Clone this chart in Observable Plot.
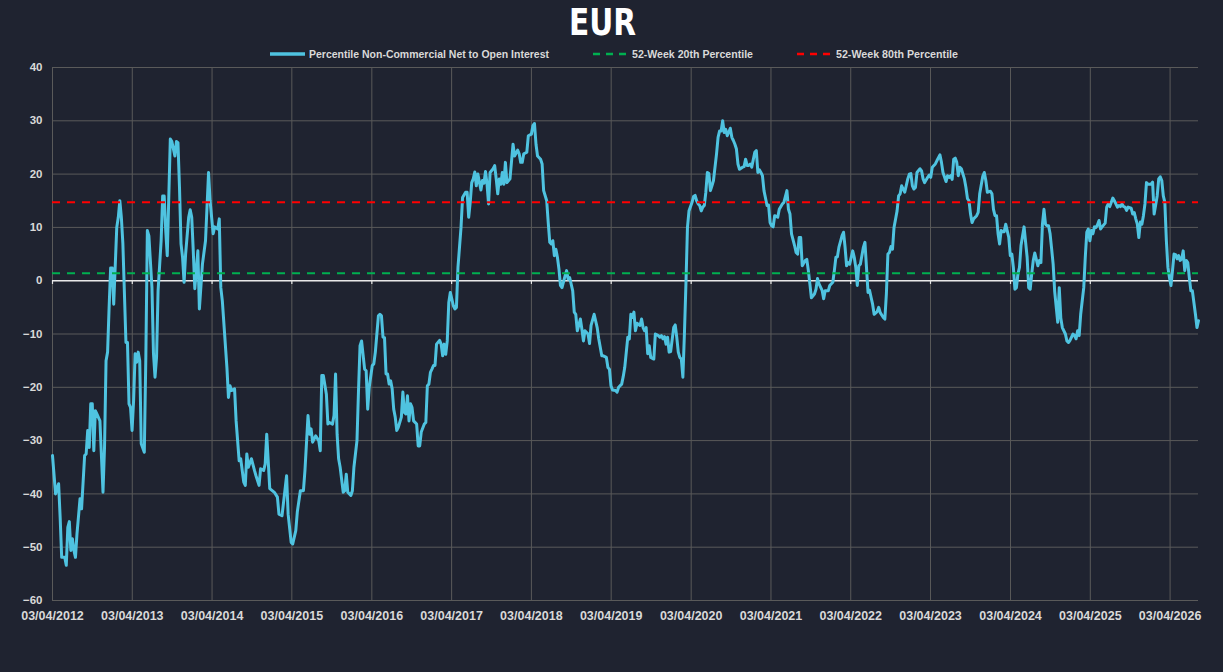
<!DOCTYPE html>
<html>
<head>
<meta charset="utf-8">
<script src="https://cdn.jsdelivr.net/npm/d3@7"></script>
<script src="https://cdn.jsdelivr.net/npm/@observablehq/plot@0.6"></script>
<style>
  html, body { margin: 0; padding: 0; background: #1f2330; }
  #wrap { position: relative; width: 1223px; height: 672px; overflow: hidden; background: #1f2330; }
  #head { position: relative; height: 62px; }
  #title { position: absolute; top: 1px; color: #ffffff; white-space: nowrap;
           font-family: "Liberation Sans Narrow", "DejaVu Sans Condensed", "Liberation Sans", sans-serif;
           font-weight: bold; font-size: 37px; line-height: 44px; transform-origin: 0 0; }
  .leg { position: absolute; top: 46px; height: 16px; display: flex; align-items: center; color: #d9d9d9;
         font-family: "Liberation Sans", Arial, sans-serif;
         font-weight: bold; font-size: 11.5px; white-space: nowrap; }
  .leg svg { margin-right: 4px; flex: none; }
  .leg span { display: inline-block; transform-origin: 0 50%; }
</style>
</head>
<body>
<div id="wrap">
  <div id="head">
    <div id="title"></div>
    <div id="legend"></div>
  </div>
  <div id="chart"></div>
</div>
<script>
// ---------- data ----------
const chartTitle = "EUR";
const seriesNames = ["Percentile Non-Commercial Net to Open Interest", "52-Week 20th Percentile", "52-Week 80th Percentile"];
const seriesColors = ["#4fc3e0", "#00b050", "#ff0000"];
const startDate = "2012-04-03";           // first weekly observation
// [weeks since start, value]
const series = [
[0,-32.8],[2,-40],[3,-39],[4,-38.1],[5,-44.4],[6,-51.9],[8,-51.9],[9,-53.4],[10,-46.3],[11,-45.2],[12,-50.6],[13,-48.4],[14,-50.6],[15,-51.9],[16,-47.5],[18,-40.9],[19,-42.8],[21,-32.8],[22,-32.5],[23,-28.1],[24,-31.3],[25,-23.1],[26,-23.1],[27,-31.9],[28,-24.4],[29,-25.0],[31,-26.3],[33,-39.7],[34,-31.3],[35,-15],[36,-13.4],[37,-5],[38,2.4],[39,2.4],[40,-4.4],[42,10],[43,11.9],[44,15],[45,11.9],[46,6.9],[48,-11.6],[49,-11.6],[50,-23.1],[51,-23.8],[52,-28.1],[53,-22.5],[54,-13.7],[55,-15.3],[56,-13.4],[57,-15],[58,-30.6],[60,-32.2],[61,-14.4],[62,9.4],[63,8.4],[65,-1.3],[66,-13.7],[67,-18.1],[68,-14.4],[69,-1.9],[71,7.5],[72,15.9],[73,15.9],[74,9.4],[75,4.7],[76,15.6],[77,26.6],[78,26.1],[80,23.4],[81,26.1],[82,25.9],[83,17.5],[84,6.9],[85,4.4],[86,-0.3],[87,5],[89,11.9],[90,13.3],[91,11.9],[92,5.6],[93,-1.5],[95,5.6],[96,-5.3],[98,3.1],[100,7.5],[102,20.3],[103,15],[105,8.8],[106,10.1],[108,9.7],[109,11.6],[110,-1.3],[111,-3.8],[114,-16.3],[115,-21.9],[116,-19.7],[117,-20.6],[119,-20.3],[120,-26.3],[122,-33.8],[123,-33.4],[125,-37.8],[126,-38.4],[127,-32.5],[128,-35],[130,-33.4],[132,-35.6],[133,-36.6],[135,-38.4],[136,-35.3],[138,-35.6],[139,-34.4],[140,-28.8],[142,-39],[145,-39.7],[147,-40.6],[148,-43.8],[150,-44.1],[151,-41.6],[153,-36.6],[154,-43.8],[156,-49.1],[157,-49.4],[159,-46.9],[160,-43.4],[162,-39.4],[164,-39.4],[165,-35.6],[167,-25.3],[168,-28.8],[169,-27.8],[170,-30.3],[172,-29.1],[174,-30],[175,-31.9],[176,-17.8],[177,-17.8],[179,-21.3],[180,-26.9],[181,-26.6],[183,-26.9],[184,-25.3],[185,-17.5],[186,-28.8],[187,-33.4],[188,-35],[190,-39.7],[191,-39.4],[192,-36.3],[193,-39.7],[195,-40.3],[196,-39.4],[197,-35],[199,-30],[200,-20.6],[201,-12.2],[202,-11.3],[204,-16.6],[205,-16.9],[206,-24.1],[207,-20],[209,-15.9],[210,-15.6],[211,-13.4],[213,-6.6],[214,-6.3],[215,-6.6],[216,-10.6],[217,-10.7],[218,-17.5],[219,-17.5],[220,-19.4],[221,-18.8],[222,-20.3],[223,-24.1],[224,-25.6],[225,-28.1],[226,-27.5],[228,-25.6],[229,-20.9],[230,-24.7],[231,-25],[232,-21.6],[233,-26.3],[234,-23.1],[235,-23.8],[236,-26.3],[238,-26.9],[239,-31],[240,-31],[241,-28.4],[243,-26.9],[244,-26.6],[245,-19.7],[246,-19.4],[247,-17.2],[248,-16.6],[249,-15.9],[250,-15.9],[251,-11.9],[253,-11.2],[254,-11.9],[255,-14.1],[256,-11.9],[257,-13.8],[258,-11.3],[259,-4.1],[260,-2.2],[262,-4.7],[263,-5.3],[264,-5.0],[265,2.5],[267,10],[268,15.6],[270,16.6],[271,16.6],[272,11.9],[273,14.7],[274,18.4],[275,19.1],[276,20.4],[277,17.8],[278,20.0],[280,17.0],[281,18.8],[282,18.3],[283,20.5],[284,18.1],[285,14.4],[286,20.3],[288,21.0],[289,21.6],[290,19.1],[291,16.3],[292,19.1],[293,18.1],[294,20.3],[295,18.1],[296,22.2],[297,18.4],[299,19.1],[301,25.6],[302,23.4],[304,24.5],[305,23.8],[306,22.2],[307,22.2],[308,23.8],[310,24.1],[311,27.2],[313,27.5],[314,29.1],[315,29.5],[316,25.6],[317,23.4],[319,22.8],[320,21.9],[321,16.9],[323,15],[324,10.9],[325,7.2],[326,6.9],[327,7.5],[328,4.7],[329,5.9],[330,4.4],[331,2.2],[332,-0.9],[333,-1.3],[335,0.9],[336,1.9],[337,0.3],[338,0.6],[340,-1.9],[341,-5.9],[342,-6.3],[343,-9.4],[345,-7.2],[346,-9.1],[347,-11.3],[348,-9.4],[350,-10],[351,-11.8],[352,-8.4],[354,-6.3],[356,-8.8],[357,-10.9],[359,-14.1],[360,-14.1],[362,-14.4],[363,-16.3],[364,-16.6],[365,-19.7],[366,-20.5],[368,-20.6],[369,-20.9],[370,-20],[372,-19.4],[373,-18],[374,-16.3],[376,-10.6],[377,-10.9],[378,-6.3],[379,-6.9],[380,-5.9],[381,-9.4],[382,-8.0],[384,-8.4],[385,-7.2],[386,-8.8],[387,-9.4],[388,-8.8],[389,-13.7],[390,-12.2],[391,-14.4],[393,-14.7],[394,-10],[396,-10.3],[397,-10.6],[398,-10.3],[399,-10.9],[400,-10.5],[401,-11.9],[402,-10.6],[403,-13.4],[404,-13.3],[406,-8.8],[407,-8.3],[408,-10.6],[409,-13.4],[410,-14.4],[411,-14.7],[412,-18.1],[413,-10],[414,-0.6],[415,10],[416,13.1],[418,14.7],[419,15.8],[420,16.0],[421,15],[422,14.4],[423,14.1],[424,13.1],[425,13.8],[426,14.1],[427,16.6],[428,20.3],[429,20.1],[430,16.9],[431,17.8],[432,18.8],[434,23.8],[435,26.9],[436,28.1],[437,28.1],[438,30],[439,27.8],[440,28.4],[441,27.2],[443,28.6],[444,26.9],[445,26.3],[446,25.6],[447,24.7],[448,21.9],[449,20.9],[451,21.3],[452,21.4],[453,22.8],[454,21.6],[455,21.6],[456,21.9],[457,21.3],[459,24.1],[460,24.4],[461,20.3],[462,20.8],[463,20.3],[464,19.7],[465,16.9],[467,14.1],[468,14.2],[469,10.9],[470,10.3],[471,10.1],[472,12.2],[474,11.9],[475,13.4],[477,14.4],[478,14.7],[480,16.9],[481,13.4],[482,12.5],[483,8.8],[485,6.6],[486,5.3],[487,5.0],[488,8.1],[489,8.1],[490,2.8],[492,3.8],[493,4.0],[494,1.9],[495,-0.6],[496,-3.2],[498,-2.5],[499,-1.6],[500,0.4],[501,-0.6],[503,-1.8],[504,-3.4],[505,-1.9],[507,-1.9],[508,-0.9],[510,-0.3],[511,1.9],[512,4.4],[513,4.5],[514,6.3],[516,8.4],[517,9.1],[518,6.3],[519,2.8],[520,3.4],[521,3.1],[523,5.6],[524,4.4],[525,2.5],[526,-0.9],[527,2.8],[528,3.1],[530,6.3],[531,7.2],[532,2.5],[533,-2.2],[534,-1.8],[535,-3.1],[536,-4.4],[537,-6.3],[539,-5.8],[540,-5.0],[541,-6.0],[543,-6.9],[544,-7.2],[545,-2.5],[546,5.0],[547,5.3],[548,6.4],[549,5.9],[550,10],[552,13.1],[553,15.9],[554,16.3],[555,17.8],[556,17.2],[557,16.6],[559,19.1],[560,20],[561,20.1],[562,17.8],[563,17.2],[564,17.5],[565,20.3],[567,21],[568,20.6],[569,19.1],[570,18.4],[572,19.4],[573,19.8],[574,19.4],[575,21.3],[577,21.9],[578,22.5],[580,23.6],[581,22.2],[582,20.3],[584,18.6],[585,19.7],[586,19.4],[587,19.7],[588,19.0],[589,22.8],[590,23.0],[591,22.2],[592,19.7],[593,21.3],[594,21.0],[596,19.1],[597,17.5],[598,15.4],[599,15],[600,12.5],[601,10.9],[602,11.6],[604,12.2],[605,12.8],[606,16.3],[608,19.6],[609,20.3],[610,18.8],[611,16.6],[613,16.8],[614,16.3],[615,13.4],[616,12.2],[617,12.2],[618,8.8],[619,6.9],[620,9.4],[621,9.2],[622,9.2],[623,10.6],[625,8.1],[626,4.7],[627,5.0],[628,2.5],[629,-1.6],[630,-1.3],[631,1.3],[632,2.5],[633,6.6],[634,8.4],[635,10.1],[637,4.4],[638,-1.3],[639,-1.6],[640,1.3],[641,3.8],[642,5.2],[644,2.8],[645,3.8],[646,3.4],[647,10.6],[648,13.4],[649,10.6],[650,10.3],[651,10.3],[652,8.8],[653,6.0],[654,3.1],[655,-2],[657,-7.8],[658,-1.3],[659,-7.0],[660,-8.8],[662,-10],[663,-11.3],[664,-11.6],[665,-11.2],[667,-10],[668,-10.3],[669,-10.9],[670,-9.4],[671,-10.3],[672,-6.3],[674,-1.3],[675,4.4],[676,9.1],[677,9.7],[678,7.5],[679,9.4],[680,8.8],[681,10.1],[682,10.0],[683,10.5],[684,11.3],[685,9.7],[686,10.1],[688,10.8],[689,13.8],[690,14.4],[691,13.9],[693,15.5],[694,15.0],[695,14.4],[696,13.8],[697,14.1],[698,13.9],[699,14.4],[700,13.9],[701,13.8],[702,13.2],[703,13.8],[705,13.6],[706,12.5],[707,12.8],[708,11.6],[709,10.6],[710,8.1],[711,11],[712,10.6],[713,12.2],[714,14.4],[715,18.4],[716,18.1],[718,18.1],[719,18.5],[720,12.5],[722,15.9],[723,19.1],[724,19.5],[725,18.8],[726,15.9],[727,14.7],[728,7.5],[729,2.5],[730,0.6],[731,-0.9],[732,1.9],[733,5.0],[734,4.9],[735,4.1],[736,4.7],[737,3.8],[738,4.1],[739,5.6],[740,1.9],[741,3.8],[742,3.4],[743,0.6],[744,-1.9],[745,-1.9],[747,-6.3],[748,-8.8],[749,-7.5]
];
const percentile20 = 1.4;
const percentile80 = 14.7;
const yTicks = [-60, -50, -40, -30, -20, -10, 0, 10, 20, 30, 40];
const tickYears = [2012, 2013, 2014, 2015, 2016, 2017, 2018, 2019, 2020, 2021, 2022, 2023, 2024, 2025, 2026];

// ---------- build ----------
const start = new Date(startDate + "T00:00:00Z");
const data = series.map(([w, v]) => ({date: d3.utcDay.offset(start, w * 7), value: v}));
const tickDates = tickYears.map(y => new Date(Date.UTC(y, 3, 3)));
const fmt = d3.utcFormat("%d/%m/%Y");

// title: narrow look, fitted to the reference width and centred on x = 602
const titleEl = document.getElementById("title");
titleEl.textContent = chartTitle;
{
  const w = titleEl.getBoundingClientRect().width;
  const s = 67 / w;
  titleEl.style.left = (602 - 67 / 2) + "px";
  titleEl.style.transform = `scaleX(${s})`;
}

// legend (HTML above the SVG)
const legendX = [270, 593, 797];
const legendTextW = [240, 121, 122];
const legend = document.getElementById("legend");
seriesNames.forEach((name, i) => {
  const item = document.createElement("div");
  item.className = "leg";
  item.style.left = legendX[i] + "px";
  const dash = i === 0 ? "" : ` stroke-dasharray="7,6"`;
  const sw = i === 0 ? 3.5 : 2.5;
  item.innerHTML = `<svg width="35" height="8"><line x1="0" y1="4" x2="35" y2="4" stroke="${seriesColors[i]}" stroke-width="${sw}"${dash}/></svg><span>${name}</span>`;
  legend.appendChild(item);
  const span = item.querySelector("span");
  const w = span.getBoundingClientRect().width;
  span.style.transform = `scaleX(${legendTextW[i] / w})`;
});

const gridColor = "#5a5a5a";
const chart = Plot.plot({
  width: 1223,
  height: 610,
  marginTop: 5,
  marginLeft: 52,
  marginRight: 25,
  marginBottom: 72,
  style: {background: "transparent", color: "#d9d9d9", fontFamily: "'Liberation Sans', Arial, sans-serif", fontWeight: "bold", overflow: "visible"},
  x: {type: "utc", domain: [start, data[data.length - 1].date]},
  y: {domain: [-60, 40]},
  marks: [
    Plot.gridY(yTicks, {stroke: gridColor, strokeOpacity: 1, strokeWidth: 1}),
    Plot.gridX(tickDates, {stroke: gridColor, strokeOpacity: 1, strokeWidth: 1}),
    Plot.axisY(yTicks, {tickSize: 0, tickPadding: 10, fontSize: 11.5, fontWeight: "bold", fill: "#d9d9d9", label: null}),
    Plot.axisX(tickDates, {tickSize: 0, tickPadding: 11, tickFormat: fmt, fontSize: 12.5, fontWeight: "bold", fill: "#d9d9d9", label: null}),
    Plot.ruleY([0], {stroke: "#e8e8e8", strokeWidth: 1.5}),
    Plot.ruleX(tickDates, {y1: 0, y2: -0.7, stroke: "#e8e8e8", strokeWidth: 1.2}),
    Plot.line(data, {x: "date", y: "value", stroke: seriesColors[0], strokeWidth: 3}),
    Plot.ruleY([percentile20], {stroke: seriesColors[1], strokeWidth: 2, strokeDasharray: "8,7"}),
    Plot.ruleY([percentile80], {stroke: seriesColors[2], strokeWidth: 2, strokeDasharray: "8,7"})
  ]
});
document.getElementById("chart").appendChild(chart);
</script>
</body>
</html>
